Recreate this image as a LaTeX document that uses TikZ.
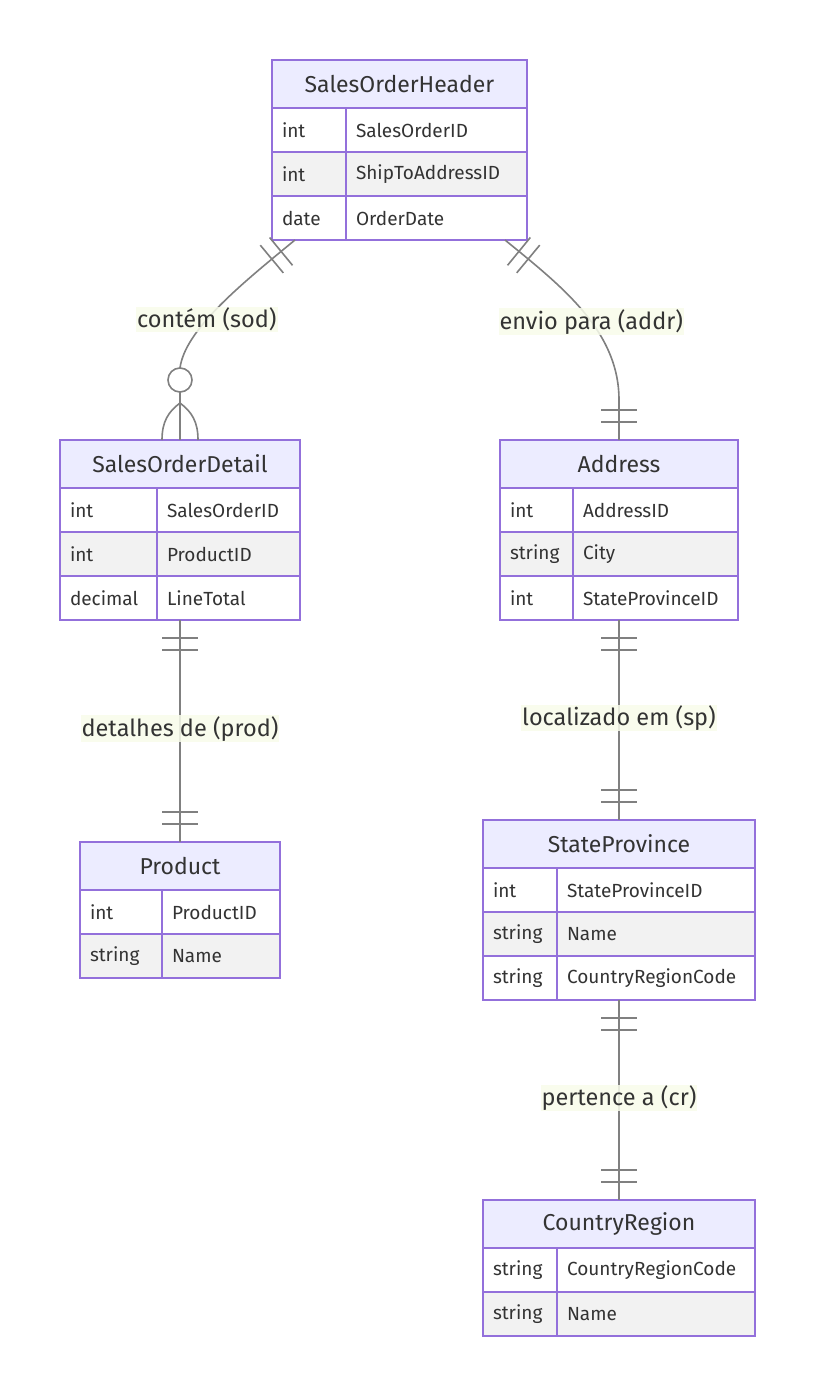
\documentclass[tikz,border=0pt]{standalone}
\usepackage{fontspec}
\setmainfont{Fira Sans}
\usetikzlibrary{calc,decorations.markings}

\definecolor{entborder}{HTML}{9370DB}
\definecolor{entfill}{HTML}{ECECFF}
\definecolor{rowgray}{HTML}{F2F2F2}
\definecolor{ink}{HTML}{333333}
\definecolor{relgray}{HTML}{808080}
\definecolor{lblbg}{HTML}{F8FCEB}

\tikzset{
  enthead/.style={draw=entborder,fill=entfill,line width=1.3pt,anchor=north west,outer sep=0pt,
    minimum height=48pt,inner sep=0pt,text=ink,font=\fontsize{23}{27}\selectfont},
  cell/.style={draw=entborder,fill=white,line width=1.3pt,anchor=north west,outer sep=0pt,
    minimum height=44pt,inner xsep=10pt,inner ysep=0pt,text width=#1,align=left,
    text=ink,font=\fontsize{19}{22}\selectfont},
  rel/.style={draw=relgray,line width=1.6pt},
  onestart/.style={postaction={decorate,decoration={markings,
    mark=at position 18pt with {\draw[rel] (0,-18pt) -- (0,18pt);},
    mark=at position 30pt with {\draw[rel] (0,-18pt) -- (0,18pt);}}}},
  oneend/.style={postaction={decorate,decoration={markings,
    mark=at position -18pt with {\draw[rel] (0,-18pt) -- (0,18pt);},
    mark=at position -30pt with {\draw[rel] (0,-18pt) -- (0,18pt);}}}},
  rlabel/.style={fill=lblbg,fill opacity=0.85,text opacity=1,text=ink,
    inner xsep=1pt,inner ysep=1pt,font=\fontsize{23.5}{27}\selectfont}
}

\begin{document}
\begin{tikzpicture}[x=1pt,y=-1pt]
  \fill[white] (0,0) rectangle (815,1395);
  \useasboundingbox (0,0) rectangle (815,1395);

  % SalesOrderHeader
  \node[enthead,minimum width=255pt] (soh) at (272,60) {SalesOrderHeader};
  \node[cell=54pt] (soh-t1) at (272,108) {int};
  \node[cell=161pt] (soh-n1) at (346,108) {SalesOrderID};
  \node[cell=54pt,fill=rowgray] (soh-t2) at (272,152) {int};
  \node[cell=161pt,fill=rowgray] (soh-n2) at (346,152) {ShipToAddressID};
  \node[cell=54pt] (soh-t3) at (272,196) {date};
  \node[cell=161pt] (soh-n3) at (346,196) {OrderDate};

  % SalesOrderDetail
  \node[enthead,minimum width=240pt] (sod) at (60,440) {SalesOrderDetail};
  \node[cell=77pt] (sod-t1) at (60,488) {int};
  \node[cell=123pt] (sod-n1) at (157,488) {SalesOrderID};
  \node[cell=77pt,fill=rowgray] (sod-t2) at (60,532) {int};
  \node[cell=123pt,fill=rowgray] (sod-n2) at (157,532) {ProductID};
  \node[cell=77pt] (sod-t3) at (60,576) {decimal};
  \node[cell=123pt] (sod-n3) at (157,576) {LineTotal};

  % Address
  \node[enthead,minimum width=238pt] (addr) at (500,440) {Address};
  \node[cell=53pt] (addr-t1) at (500,488) {int};
  \node[cell=145pt] (addr-n1) at (573,488) {AddressID};
  \node[cell=53pt,fill=rowgray] (addr-t2) at (500,532) {string};
  \node[cell=145pt,fill=rowgray] (addr-n2) at (573,532) {City};
  \node[cell=53pt] (addr-t3) at (500,576) {int};
  \node[cell=145pt] (addr-n3) at (573,576) {StateProvinceID};

  % Product
  \node[enthead,minimum width=200pt] (prod) at (80,842) {Product};
  \node[cell=62pt] (prod-t1) at (80,890) {int};
  \node[cell=98pt] (prod-n1) at (162,890) {ProductID};
  \node[cell=62pt,fill=rowgray] (prod-t2) at (80,934) {string};
  \node[cell=98pt,fill=rowgray] (prod-n2) at (162,934) {Name};

  % StateProvince
  \node[enthead,minimum width=272pt] (sp) at (483,820) {StateProvince};
  \node[cell=54pt] (sp-t1) at (483,868) {int};
  \node[cell=178pt] (sp-n1) at (557,868) {StateProvinceID};
  \node[cell=54pt,fill=rowgray] (sp-t2) at (483,912) {string};
  \node[cell=178pt,fill=rowgray] (sp-n2) at (557,912) {Name};
  \node[cell=54pt] (sp-t3) at (483,956) {string};
  \node[cell=178pt] (sp-n3) at (557,956) {CountryRegionCode};

  % CountryRegion
  \node[enthead,minimum width=272pt] (cr) at (483,1200) {CountryRegion};
  \node[cell=54pt] (cr-t1) at (483,1248) {string};
  \node[cell=178pt] (cr-n1) at (557,1248) {CountryRegionCode};
  \node[cell=54pt,fill=rowgray] (cr-t2) at (483,1292) {string};
  \node[cell=178pt,fill=rowgray] (cr-n2) at (557,1292) {Name};

  % relations
  \draw[rel,onestart] ([xshift=23pt]soh-t3.south west)
    .. controls +(-55,45) and +(5,-38) .. ($(sod.north)+(0,-72)$)
    node[rlabel,pos=0.6] (l-sod) {contém (sod)};
  \draw[rel,fill=white] ($(sod.north)+(0,-60)$) circle[radius=12pt];
  \draw[rel] ($(sod.north)+(0,-48)$) -- (sod.north);
  \draw[rel] ($(sod.north)+(0,-37)$) .. controls +(-12,9) and +(0,-18) .. ([xshift=-18pt]sod.north);
  \draw[rel] ($(sod.north)+(0,-37)$) .. controls +(12,9) and +(0,-18) .. ([xshift=18pt]sod.north);

  \draw[rel,onestart,oneend] ([xshift=-22pt]soh-n3.south east)
    .. controls +(55,45) and +(0,-70) .. ($(addr.north)+(0,-40)$)
    node[rlabel,pos=0.57] (l-addr) {envio para (addr)} -- (addr.north);

  \draw[rel,onestart,oneend] (sod.north |- sod-n3.south) -- (prod.north)
    node[rlabel,pos=0.49] (l-prod) {detalhes de (prod)};
  \draw[rel,onestart,oneend] (addr.north |- addr-n3.south) -- (sp.north)
    node[rlabel,pos=0.49] (l-sp) {localizado em (sp)};
  \draw[rel,onestart,oneend] (sp.north |- sp-n3.south) -- (cr.north)
    node[rlabel,pos=0.49] (l-cr) {pertence a (cr)};
\end{tikzpicture}
\end{document}
